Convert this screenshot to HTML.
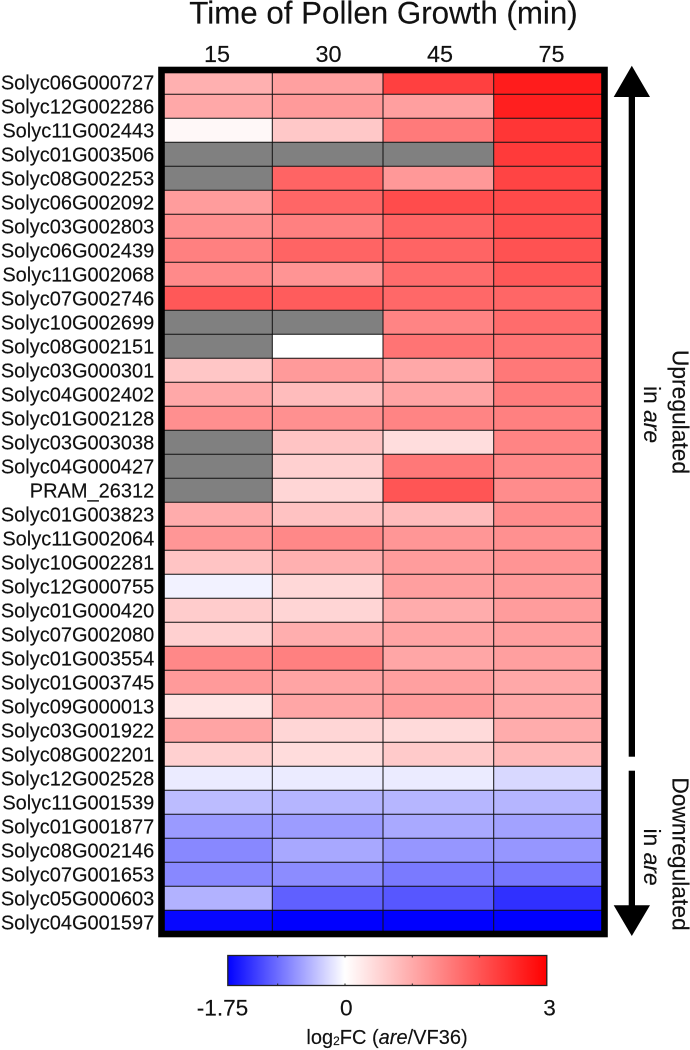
<!DOCTYPE html>
<html lang="en">
<head>
<meta charset="utf-8">
<title>Time of Pollen Growth heatmap</title>
<style>
  html, body { margin: 0; padding: 0; background: #fff; }
  #chart { display: block; width: 690px; height: 1050px; }
  text { font-family: "Liberation Sans", Arial, sans-serif; fill: #111; stroke: #111; stroke-width: 0.15px; }
</style>
</head>
<body>
<svg id="chart" xmlns="http://www.w3.org/2000/svg" width="690" height="1050" viewBox="0 0 690 1050">
  <defs>
    <linearGradient id="bar-gradient" gradientUnits="userSpaceOnUse" x1="227.3" x2="546.8" y1="0" y2="0"></linearGradient>
  </defs>
  <g id="cells"></g>
  <g id="grid"></g>
  <rect x="161.5" y="70" width="443" height="864" fill="none" stroke="#000" stroke-width="6.6"></rect>
  <g id="row-labels"></g>
  <g id="col-labels"></g>
  <text x="383.5" y="23.5" font-size="31.3" text-anchor="middle">Time of Pollen Growth (min)</text>

  <g>
    <rect x="628.7" y="94" width="6.3" height="662.7" fill="#000"></rect>
    <polygon points="631.8,65.7 650,97 613.7,97" fill="#000"></polygon>
  </g>
  <g>
    <rect x="628.7" y="770.7" width="6.3" height="137" fill="#000"></rect>
    <polygon points="631.8,936 650,905.3 613.7,905.3" fill="#000"></polygon>
  </g>
  <text font-size="22.8" text-anchor="middle" transform="translate(672.5,412) rotate(90)">Upregulated</text>
  <text font-size="22.8" text-anchor="middle" transform="translate(644,414.5) rotate(90)">in <tspan font-style="italic">are</tspan></text>
  <text font-size="22.8" text-anchor="middle" transform="translate(672.5,854) rotate(90)">Downregulated</text>
  <text font-size="22.8" text-anchor="middle" transform="translate(644,857) rotate(90)">in <tspan font-style="italic">are</tspan></text>

  <rect x="227.8" y="955.5" width="319" height="30" fill="url(#bar-gradient)" stroke="#222" stroke-width="1.3"></rect>
  <g id="bar-ticks"></g>
  <g id="bar-labels"></g>
  <text x="387" y="1044" font-size="20" text-anchor="middle">log<tspan font-size="12" dy="1">2</tspan><tspan dy="-1">FC (</tspan><tspan font-style="italic">are</tspan>/VF36)</text>
</svg>

<script>
const genes = [
  "Solyc06G000727","Solyc12G002286","Solyc11G002443","Solyc01G003506","Solyc08G002253","Solyc06G002092",
  "Solyc03G002803","Solyc06G002439","Solyc11G002068","Solyc07G002746","Solyc10G002699","Solyc08G002151",
  "Solyc03G000301","Solyc04G002402","Solyc01G002128","Solyc03G003038","Solyc04G000427","PRAM_26312",
  "Solyc01G003823","Solyc11G002064","Solyc10G002281","Solyc12G000755","Solyc01G000420","Solyc07G002080",
  "Solyc01G003554","Solyc01G003745","Solyc09G000013","Solyc03G001922","Solyc08G002201","Solyc12G002528",
  "Solyc11G001539","Solyc01G001877","Solyc08G002146","Solyc07G001653","Solyc05G000603","Solyc04G001597"
];
const timeLabels = ["15","30","45","75"];
const values15 = [0.93,1.02,0.08,null,null,1.16,1.31,1.50,1.38,1.96,null,null,
  0.67,1.02,1.32,null,null,null,0.98,1.24,0.69,-0.09,0.60,0.55,
  1.40,1.19,0.32,1.07,0.55,-0.14,-0.46,-0.69,-0.82,-0.82,-0.53,-1.70];
const values30 = [1.12,1.19,0.65,null,1.82,1.80,1.50,1.82,1.26,1.92,null,0.00,
  1.19,0.79,1.31,0.69,0.55,0.48,0.72,1.40,0.93,0.46,0.50,0.95,
  1.50,1.07,1.05,0.48,0.41,-0.14,-0.51,-0.68,-0.60,-0.79,-1.09,-1.75];
const values45 = [2.25,1.13,1.56,null,1.21,2.10,1.82,1.82,1.73,1.78,1.45,1.64,
  1.02,1.07,1.45,0.40,1.59,2.00,0.79,1.24,1.16,1.13,0.98,1.07,
  1.05,1.12,1.16,0.44,0.62,-0.14,-0.50,-0.59,-0.72,-0.91,-1.15,-1.75];
const values75 = [2.67,2.64,2.37,2.32,2.20,2.13,2.06,2.04,1.96,1.80,1.73,1.64,
  1.59,1.54,1.50,1.45,1.40,1.35,1.35,1.31,1.26,1.19,1.16,1.13,
  1.13,1.02,1.02,0.98,0.83,-0.27,-0.51,-0.64,-0.72,-0.93,-1.42,-1.75];
const colorbarTicks = [-1,0,1,2];
const colorbarLabels = ["-1.75","0","3"];
const colorbarLabelValues = [-1.82,0.02,3.04];
const scaleMin = -1.75;
const scaleMax = 3;

const series = [values15, values30, values45, values75];
const SVG_NS = "http://www.w3.org/2000/svg";

function xCol(i) { return 161.6 + 110.7 * i; }
function yRow(i) { return 70.3 + 24 * i; }
function xTimeLabel(i) { return 217 + 111.5 * i; }
function xBar(v) { return 345 + 67.3 * v; }

function colorFor(v) {
  if (v === null) return "#808080";
  if (v >= 0) {
    const g = Math.round(255 * (1 - Math.min(v, scaleMax) / scaleMax));
    return "rgb(255," + g + "," + g + ")";
  }
  const r = Math.round(255 * (1 + Math.max(v, scaleMin) / 1.75));
  return "rgb(" + r + "," + r + ",255)";
}

function make(tag, attrs, parent) {
  const el = document.createElementNS(SVG_NS, tag);
  for (const k in attrs) el.setAttribute(k, attrs[k]);
  parent.appendChild(el);
  return el;
}

const cellsG = document.getElementById("cells");
series.forEach(function (vals, c) {
  vals.forEach(function (v, r) {
    const el = make("rect", { x: xCol(c), y: yRow(r), width: 110.7, height: 24, fill: colorFor(v) }, cellsG);
    
    
  });
});

const gridG = document.getElementById("grid");
for (let r = 1; r < genes.length; r++) {
  const el = make("line", { x1: xCol(0), x2: xCol(timeLabels.length), y1: yRow(r), y2: yRow(r), stroke: "#111", "stroke-width": 1 }, gridG);
  
  
}
for (let c = 1; c < timeLabels.length; c++) {
  const el = make("line", { x1: xCol(c), x2: xCol(c), y1: yRow(0), y2: yRow(genes.length), stroke: "#111", "stroke-width": 1 }, gridG);
  
  
}

const rowG = document.getElementById("row-labels");
genes.forEach(function (g, r) {
  const el = make("text", { x: 154.3, y: yRow(r) + 19, "font-size": 20, "text-anchor": "end" }, rowG);
  el.textContent = g;
  
  
});

const colG = document.getElementById("col-labels");
timeLabels.forEach(function (t, c) {
  const el = make("text", { x: xTimeLabel(c), y: 62, "font-size": 23.4, "text-anchor": "middle" }, colG);
  el.textContent = t;
  
  
});

const grad = document.getElementById("bar-gradient");
[[scaleMin, colorFor(scaleMin)], [0, colorFor(0)], [scaleMax, colorFor(scaleMax)]].forEach(function (s) {
  make("stop", { offset: (s[0] - scaleMin) / (scaleMax - scaleMin), "stop-color": s[1] }, grad);
});

const tickG = document.getElementById("bar-ticks");
colorbarTicks.forEach(function (v) {
  const top = make("line", { x1: xBar(v), x2: xBar(v), y1: 955.5, y2: 957.5, stroke: "#222", "stroke-width": 1 }, tickG);
  
  
  const bottom = make("line", { x1: xBar(v), x2: xBar(v), y1: 983.5, y2: 985.5, stroke: "#222", "stroke-width": 1 }, tickG);
  
  
});

const barLabelG = document.getElementById("bar-labels");
colorbarLabels.forEach(function (t, i) {
  const el = make("text", { x: xBar(colorbarLabelValues[i]), y: 1015.5, "font-size": 22.6, "text-anchor": "middle" }, barLabelG);
  el.textContent = t;
  
  
});
</script>
</body>
</html>
